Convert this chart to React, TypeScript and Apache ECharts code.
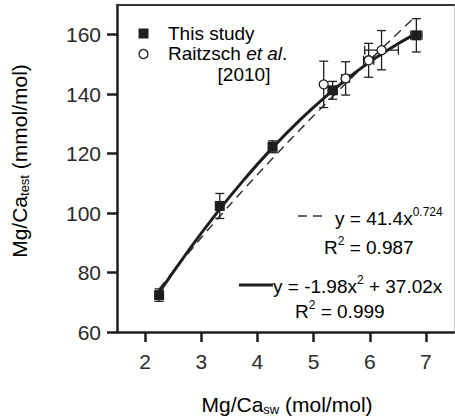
import React, { useEffect, useRef } from 'react';
import * as echarts from 'echarts';

// This study (filled squares)
const studyX = [2.25, 3.33, 4.27, 5.34, 6.83];
const studyY = [72.4, 102.4, 122.3, 141.3, 159.8];
const studyXErr = [0.05, 0.05, 0.05, 0.08, 0.1];
const studyYErr = [2.1, 4.2, 2.0, 3.0, 5.6];

// Raitzsch et al. [2010] (open circles)
const raitzX = [5.18, 5.57, 5.98, 6.21];
const raitzY = [143.3, 145.3, 151.4, 154.8];
const raitzXErr = [0.0, 0.07, 0.09, 0.3];
const raitzYErr = [7.8, 5.6, 5.7, 6.6];

// Quadratic fit (solid)
const solidFitX = [2.25, 2.75, 3.25, 3.75, 4.25, 4.75, 5.25, 5.75, 6.25, 6.85];
const solidFitY = [73.3, 86.8, 99.4, 111.0, 121.6, 131.2, 139.8, 147.4, 154.0, 160.7];

// Power fit (dashed)
const dashFitX = [2.25, 2.75, 3.25, 3.75, 4.25, 4.75, 5.25, 5.75, 6.25, 6.75];
const dashFitY = [74.5, 86.1, 97.2, 107.8, 118.0, 127.9, 137.5, 146.9, 156.0, 165.0];

const xTicks = [2, 3, 4, 5, 6, 7];
const yTicks = [60, 80, 100, 120, 140, 160];

const FONT = '"Liberation Sans", Arial, Helvetica, sans-serif';
const INK = '#1e1e1e';
const TXT = '#2a2a2a';

export default function App() {
  const ref = useRef<HTMLDivElement>(null);

  useEffect(() => {
    const chart = echarts.init(ref.current!, null, { renderer: 'svg' });

    const errRender = (params: any, api: any) => {
      const x = api.value(0);
      const y = api.value(1);
      const xe = api.value(2);
      const ye = api.value(3);
      const top = api.coord([x, y + ye]);
      const bot = api.coord([x, y - ye]);
      const l = api.coord([x - xe, y]);
      const r = api.coord([x + xe, y]);
      const cap = 4.5;
      const style = { stroke: INK, lineWidth: 1.3 };
      const children: any[] = [
        { type: 'line', shape: { x1: top[0], y1: top[1], x2: bot[0], y2: bot[1] }, style },
        { type: 'line', shape: { x1: top[0] - cap, y1: top[1], x2: top[0] + cap, y2: top[1] }, style },
        { type: 'line', shape: { x1: bot[0] - cap, y1: bot[1], x2: bot[0] + cap, y2: bot[1] }, style },
      ];
      if (xe > 0) {
        children.push(
          { type: 'line', shape: { x1: l[0], y1: l[1], x2: r[0], y2: r[1] }, style },
          { type: 'line', shape: { x1: l[0], y1: l[1] - cap, x2: l[0], y2: l[1] + cap }, style },
          { type: 'line', shape: { x1: r[0], y1: r[1] - cap, x2: r[0], y2: r[1] + cap }, style }
        );
      }
      return { type: 'group', children };
    };

    const studyErr = studyX.map((x, i) => [x, studyY[i], studyXErr[i], studyYErr[i]]);
    const raitzErr = raitzX.map((x, i) => [x, raitzY[i], raitzXErr[i], raitzYErr[i]]);

    const mainRich = (size: number) => ({
      m: { fontSize: size, fontFamily: FONT, color: TXT, lineHeight: 24 },
      s: { fontSize: 13, fontFamily: FONT, color: TXT, lineHeight: 14, verticalAlign: 'bottom' },
      p: { fontSize: 12, fontFamily: FONT, color: TXT, lineHeight: 12, verticalAlign: 'top' },
      i: { fontSize: size, fontFamily: FONT, color: TXT, lineHeight: 24, fontStyle: 'italic' },
    });

    chart.setOption({
      animation: false,
      backgroundColor: '#ffffff',
      grid: { left: 117, right: 1, top: 5, bottom: 88, containLabel: false, outerBoundsMode: 'none' },
      xAxis: [
        {
          type: 'value',
          position: 'bottom',
          min: 1.5,
          max: 7.5,
          axisLine: { show: true, onZero: false, lineStyle: { color: INK, width: 2.5 } },
          axisTick: { show: true, inside: false, length: 10, customValues: xTicks, lineStyle: { color: INK, width: 2.5 } },
          axisLabel: { show: true, customValues: xTicks, margin: 19, fontSize: 21, fontFamily: FONT, color: TXT },
          splitLine: { show: false },
        },
        {
          type: 'value',
          position: 'top',
          min: 1.5,
          max: 7.5,
          axisLine: { show: true, onZero: false, lineStyle: { color: '#333', width: 2 } },
          axisTick: { show: false },
          axisLabel: { show: false },
          splitLine: { show: false },
        },
      ],
      yAxis: [
        {
          type: 'value',
          position: 'left',
          min: 60,
          max: 170,
          axisLine: { show: true, onZero: false, lineStyle: { color: INK, width: 2.5 } },
          axisTick: { show: true, inside: false, length: 10, customValues: yTicks, lineStyle: { color: INK, width: 2.5 } },
          axisLabel: { show: true, customValues: yTicks, margin: 16, fontSize: 21, fontFamily: FONT, color: TXT },
          splitLine: { show: false },
        },
        {
          type: 'value',
          position: 'right',
          min: 60,
          max: 170,
          axisLine: { show: true, onZero: false, lineStyle: { color: '#c8c8c8', width: 1 } },
          axisTick: { show: false },
          axisLabel: { show: false },
          splitLine: { show: false },
        },
      ],
      series: [
        {
          name: 'Power fit',
          type: 'line',
          smooth: true,
          showSymbol: false,
          z: 2,
          data: dashFitX.map((x, i) => [x, dashFitY[i]]),
          lineStyle: { color: '#333333', width: 1.5, type: [9, 6] },
        },
        {
          name: 'Quadratic fit',
          type: 'line',
          smooth: true,
          showSymbol: false,
          z: 3,
          data: solidFitX.map((x, i) => [x, solidFitY[i]]),
          lineStyle: { color: INK, width: 3 },
        },
        {
          name: 'This study err',
          type: 'custom',
          z: 4,
          renderItem: errRender,
          encode: { x: 0, y: 1 },
          data: studyErr,
        },
        {
          name: 'Raitzsch err',
          type: 'custom',
          z: 4,
          renderItem: errRender,
          encode: { x: 0, y: 1 },
          data: raitzErr,
        },
        {
          name: 'This study',
          type: 'scatter',
          symbol: 'rect',
          symbolSize: 10,
          z: 5,
          itemStyle: { color: INK, opacity: 1 },
          data: studyX.map((x, i) => [x, studyY[i]]),
        },
        {
          name: 'Raitzsch et al. [2010]',
          type: 'scatter',
          symbol: 'circle',
          symbolSize: 9,
          z: 6,
          itemStyle: { color: '#ffffff', borderColor: INK, borderWidth: 1.3, opacity: 1 },
          data: raitzX.map((x, i) => [x, raitzY[i]]),
        },
      ],
      graphic: [
        // axis titles
        {
          type: 'text',
          x: 19,
          y: 161,
          rotation: Math.PI / 2,
          style: {
            text: '{m|Mg/Ca}{s|test}{m| (mmol/mol)}',
            rich: mainRich(21),
            align: 'center',
            verticalAlign: 'middle',
          },
        },
        {
          type: 'text',
          x: 287,
          y: 404,
          style: {
            text: '{m|Mg/Ca}{s|sw}{m| (mol/mol)}',
            rich: mainRich(21),
            align: 'center',
            verticalAlign: 'middle',
          },
        },
        // legend
        { type: 'rect', shape: { x: 138.5, y: 28.5, width: 10, height: 10 }, style: { fill: INK } },
        { type: 'circle', shape: { cx: 143.5, cy: 54, r: 4.5 }, style: { fill: '#fff', stroke: INK, lineWidth: 1.3 } },
        {
          type: 'text', x: 168, y: 33,
          style: { text: '{m|This study}', rich: mainRich(19), align: 'left', verticalAlign: 'middle' },
        },
        {
          type: 'text', x: 168, y: 53.5,
          style: { text: '{m|Raitzsch }{i|et al}{m|.}', rich: mainRich(19), align: 'left', verticalAlign: 'middle' },
        },
        {
          type: 'text', x: 244, y: 74,
          style: { text: '{m|[2010]}', rich: mainRich(19), align: 'center', verticalAlign: 'middle' },
        },
        // fit annotations
        { type: 'line', shape: { x1: 298, y1: 216, x2: 326, y2: 216 }, style: { stroke: '#333333', lineWidth: 1.5, lineDash: [9, 6] } },
        {
          type: 'text', x: 335, y: 218,
          style: { text: '{m|y = 41.4x}{p|0.724}', rich: mainRich(19), align: 'left', verticalAlign: 'middle' },
        },
        {
          type: 'text', x: 324, y: 247,
          style: { text: '{m|R}{p|2}{m| = 0.987}', rich: mainRich(19), align: 'left', verticalAlign: 'middle' },
        },
        { type: 'line', shape: { x1: 239, y1: 285, x2: 273, y2: 285 }, style: { stroke: INK, lineWidth: 3 } },
        {
          type: 'text', x: 273, y: 286,
          style: { text: '{m|y = -1.98x}{p|2}{m| + 37.02x}', rich: mainRich(19), align: 'left', verticalAlign: 'middle' },
        },
        {
          type: 'text', x: 295, y: 311,
          style: { text: '{m|R}{p|2}{m| = 0.999}', rich: mainRich(19), align: 'left', verticalAlign: 'middle' },
        },
      ],
    });

    return () => chart.dispose();
  }, []);

  return (
    <div
      ref={ref}
      style={{ position: 'absolute', left: 0, top: 0, width: 455, height: 420 }}
    />
  );
}
